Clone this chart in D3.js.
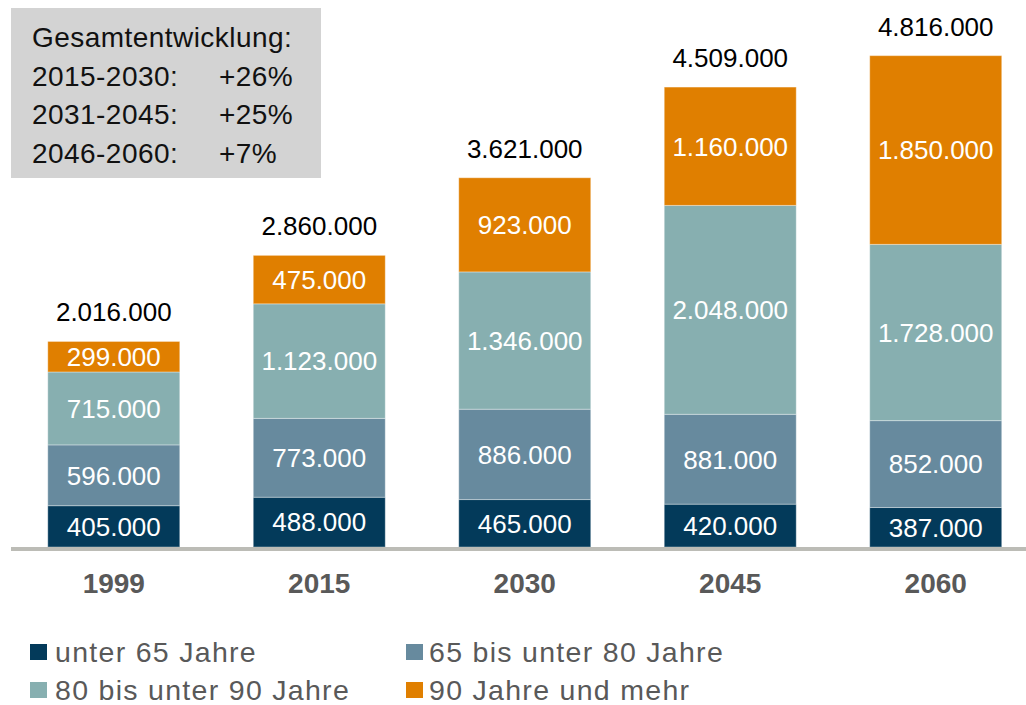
<!DOCTYPE html>
<html>
<head>
<meta charset="utf-8">
<script src="https://cdn.jsdelivr.net/npm/d3@7"></script>
<style>
  html, body { margin: 0; padding: 0; background: #fff; }
  svg { display: block; font-family: "Liberation Sans", Arial, sans-serif; }
</style>
</head>
<body>
<svg id="chart" width="1026" height="705"></svg>
<script>
const years = ["1999", "2015", "2030", "2045", "2060"];
const seriesNames = ["unter 65 Jahre", "65 bis unter 80 Jahre", "80 bis unter 90 Jahre", "90 Jahre und mehr"];
const under65 = [405000, 488000, 465000, 420000, 387000];
const age65to80 = [596000, 773000, 886000, 881000, 852000];
const age80to90 = [715000, 1123000, 1346000, 2048000, 1728000];
const age90plus = [299000, 475000, 923000, 1160000, 1850000];
const totals = [2016000, 2860000, 3621000, 4509000, 4816000];
const colors = ["#033a5a", "#678a9e", "#87afb0", "#e07f00"];
const boxLines = [["Gesamtentwicklung:", ""], ["2015-2030:", "+26%"], ["2031-2045:", "+25%"], ["2046-2060:", "+7%"]];

const seriesValues = [under65, age65to80, age80to90, age90plus];
const table = years.map((y, i) => {
  const row = { year: y };
  seriesNames.forEach((s, k) => row[s] = seriesValues[k][i]);
  return row;
});

const svg = d3.select("#chart");
const fmt = v => d3.format(",")(v).replace(/,/g, ".");

const x = d3.scaleBand().domain(years).range([11, 1038.5]).paddingInner(0.3577).paddingOuter(0.179);
const y = d3.scaleLinear().domain([0, 5000000]).range([547, 37]);

const stack = d3.stack().keys(seriesNames)(table);

// info box
const box = svg.append("g");
box.append("rect").attr("x", 11).attr("y", 8).attr("width", 310).attr("height", 170).attr("fill", "#d3d3d3");
boxLines.forEach((l, i) => {
  const by = 47 + i * 38.5;
  box.append("text").attr("x", 32).attr("y", by).attr("font-size", 28).attr("letter-spacing", 0.45).attr("fill", "#111").text(l[0]);
  if (l[1]) box.append("text").attr("x", 219).attr("y", by).attr("font-size", 28).attr("letter-spacing", 0.45).attr("fill", "#111").text(l[1]);
});

// bars
const layers = svg.append("g").selectAll("g").data(stack).join("g").attr("fill", (d, i) => colors[i]);
layers.selectAll("rect").data(d => d).join("rect")
  .attr("x", d => x(d.data.year))
  .attr("width", x.bandwidth())
  .attr("y", d => y(d[1]))
  .attr("height", d => y(d[0]) - y(d[1]))
  .attr("stroke", "#ffffff").attr("stroke-opacity", 0.35).attr("stroke-width", 1);

layers.selectAll("text").data(d => d).join("text")
  .attr("x", d => x(d.data.year) + x.bandwidth() / 2)
  .attr("y", d => (y(d[0]) + y(d[1])) / 2)
  .attr("dy", "0.36em")
  .attr("text-anchor", "middle")
  .attr("font-size", 26)
  .attr("fill", "#ffffff")
  .text(d => fmt(d[1] - d[0]));

// totals
svg.append("g").selectAll("text").data(years).join("text")
  .attr("x", d => x(d) + x.bandwidth() / 2)
  .attr("y", (d, i) => y(stack[3][i][1]) - 20)
  .attr("text-anchor", "middle")
  .attr("font-size", 26)
  .attr("fill", "#000")
  .text((d, i) => fmt(totals[i]));

// baseline / axis
const axis = svg.append("g").attr("transform", "translate(0,549)")
  .call(d3.axisBottom(x).tickSize(0).tickPadding(0));
axis.select(".domain").remove();
axis.append("line").attr("x1", 11).attr("x2", 1026).attr("y1", 0).attr("y2", 0)
  .attr("stroke", "#bcbcb6").attr("stroke-width", 4);
axis.selectAll(".tick text")
  .attr("y", 44).attr("dy", 0)
  .attr("font-family", "'Liberation Sans', Arial, sans-serif")
  .attr("font-size", 28).attr("font-weight", "bold").attr("fill", "#595959");

// legend
const legendPos = [[30, 55, 662], [406, 429, 662], [30, 55, 700], [406, 429, 700]];
const lg = svg.append("g").selectAll("g").data(seriesNames).join("g");
lg.append("rect")
  .attr("x", (d, i) => legendPos[i][0])
  .attr("y", (d, i) => legendPos[i][2] - 18)
  .attr("width", 17).attr("height", 16)
  .attr("fill", (d, i) => colors[i]);
lg.append("text")
  .attr("x", (d, i) => legendPos[i][1])
  .attr("y", (d, i) => legendPos[i][2])
  .attr("font-size", 28.5).attr("letter-spacing", 1.3)
  .attr("fill", "#595959")
  .text(d => d);
</script>
</body>
</html>
